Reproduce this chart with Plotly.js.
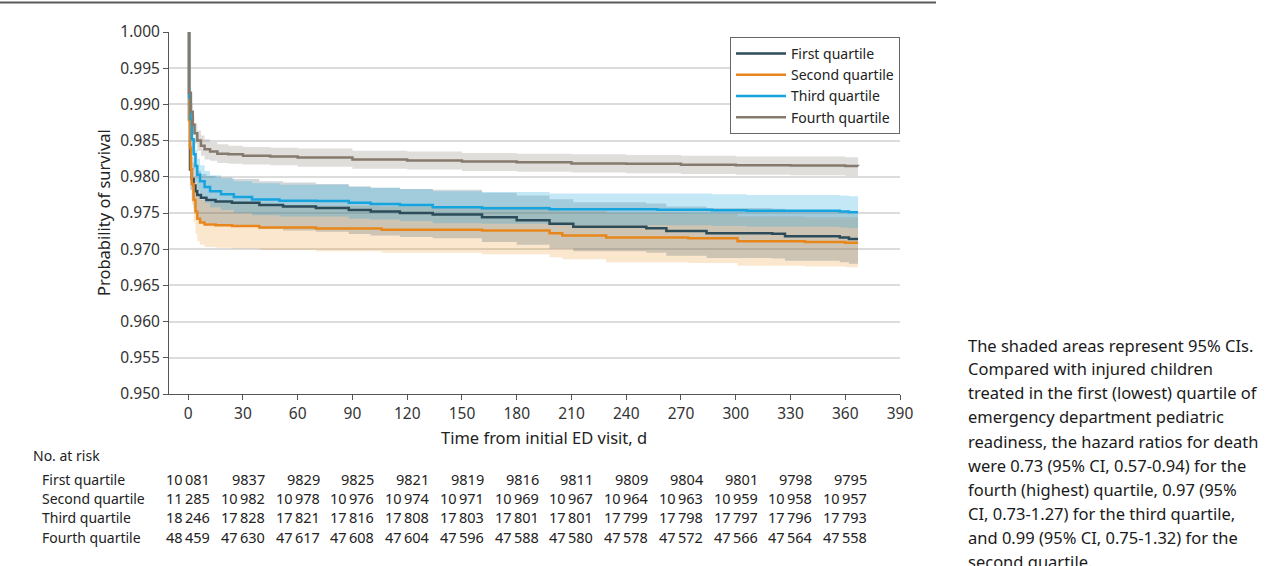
<!DOCTYPE html>
<html>
<head>
<meta charset="utf-8">
<script src="https://cdn.plot.ly/plotly-3.0.1.min.js"></script>
<style>
  html, body { margin: 0; padding: 0; background: #fff; }
  #chart { width: 1265px; height: 566px; }
</style>
</head>
<body>
<div id="chart"></div>
<script>
// ---------- Data ----------
const seriesNames = ["First quartile", "Second quartile", "Third quartile", "Fourth quartile"];

// First quartile
const t1  = [0, 0.5, 1, 2, 3, 4, 5, 7, 10, 15, 24, 39, 52, 70, 88, 100, 116, 134, 161, 180, 198, 211, 251, 262, 284, 320, 327, 357, 362, 367];
const s1  = [1.0, 0.9880, 0.9810, 0.9797, 0.9788, 0.9780, 0.9775, 0.9771, 0.9768, 0.9766, 0.9764, 0.9761, 0.9759, 0.9757, 0.9754, 0.9752, 0.9750, 0.9748, 0.9744, 0.9740, 0.9735, 0.9731, 0.9729, 0.9725, 0.9722, 0.97215, 0.9718, 0.9716, 0.9714, 0.9714];
const hi1 = [1.0, 0.9905, 0.9840, 0.9828, 0.9820, 0.9813, 0.9808, 0.9804, 0.9801, 0.9799, 0.9797, 0.9794, 0.9792, 0.9790, 0.9787, 0.9785, 0.9783, 0.9782, 0.9778, 0.9774, 0.9769, 0.9765, 0.9763, 0.9759, 0.9757, 0.9756, 0.9753, 0.9751, 0.9749, 0.9749];
const lo1 = [1.0, 0.9855, 0.9782, 0.9768, 0.9757, 0.9748, 0.9742, 0.9738, 0.9735, 0.9733, 0.9731, 0.9728, 0.9726, 0.9724, 0.9721, 0.9719, 0.9717, 0.9715, 0.9710, 0.9706, 0.9701, 0.9697, 0.9695, 0.9691, 0.9688, 0.9687, 0.9684, 0.9682, 0.9680, 0.9680];

// Second quartile
const t2  = [0, 0.5, 1, 1.5, 2, 3, 4, 5, 6.5, 9, 15, 24, 39, 70, 106, 161, 198, 205, 229, 274, 301, 338, 360, 367];
const s2  = [1.0, 0.9878, 0.9840, 0.9810, 0.9790, 0.9768, 0.9752, 0.9742, 0.9737, 0.9734, 0.9733, 0.9732, 0.9730, 0.97285, 0.9727, 0.9726, 0.9722, 0.9719, 0.9716, 0.9715, 0.9711, 0.9710, 0.9709, 0.9709];
const hi2 = [1.0, 0.9900, 0.9866, 0.9838, 0.9819, 0.9798, 0.9783, 0.9773, 0.9768, 0.9765, 0.9764, 0.9763, 0.9761, 0.9760, 0.9759, 0.9759, 0.9756, 0.9753, 0.9750, 0.9749, 0.9745, 0.9744, 0.9744, 0.9744];
const lo2 = [1.0, 0.9856, 0.9814, 0.9782, 0.9761, 0.9738, 0.9721, 0.9711, 0.9706, 0.9703, 0.9702, 0.9701, 0.9699, 0.9697, 0.9695, 0.9693, 0.9689, 0.9686, 0.9682, 0.9681, 0.9677, 0.9676, 0.9675, 0.9675];

// Third quartile
const t3  = [0, 0.5, 1.2, 2, 3, 4, 5, 6.5, 9, 12, 18, 25, 35, 50, 70, 88, 100, 116, 134, 161, 198, 257, 287, 306, 357, 362, 367];
const s3  = [1.0, 0.9910, 0.9880, 0.9852, 0.9831, 0.9815, 0.9803, 0.9794, 0.9786, 0.9780, 0.9776, 0.9772, 0.97685, 0.9767, 0.97665, 0.9764, 0.97625, 0.9761, 0.9758, 0.97566, 0.97552, 0.97545, 0.97538, 0.9753, 0.97522, 0.9751, 0.9751];
const hi3 = [1.0, 0.9925, 0.9898, 0.9872, 0.9852, 0.9837, 0.9825, 0.9816, 0.9808, 0.9802, 0.9798, 0.9794, 0.9791, 0.9789, 0.9789, 0.9786, 0.9785, 0.9783, 0.9780, 0.9779, 0.9777, 0.9777, 0.9776, 0.9775, 0.9774, 0.9773, 0.9773];
const lo3 = [1.0, 0.9895, 0.9862, 0.9833, 0.9810, 0.9793, 0.9781, 0.9772, 0.9764, 0.9758, 0.9754, 0.9750, 0.9747, 0.9745, 0.9745, 0.9742, 0.9741, 0.9739, 0.9736, 0.9735, 0.9733, 0.9733, 0.9732, 0.9731, 0.9730, 0.9729, 0.9729];

// Fourth quartile
const t4  = [0, 0.5, 1.5, 2.5, 3.5, 5, 7, 9, 12, 16, 22, 30, 45, 60, 90, 120, 150, 180, 210, 240, 270, 300, 330, 360, 367];
const s4  = [1.0, 0.9916, 0.9890, 0.9872, 0.9860, 0.9850, 0.9843, 0.9838, 0.9835, 0.9832, 0.9831, 0.9829, 0.9828, 0.98265, 0.9824, 0.98225, 0.9821, 0.9820, 0.98185, 0.9818, 0.98165, 0.9816, 0.98155, 0.98148, 0.98147];
const hi4 = [1.0, 0.9925, 0.9902, 0.9885, 0.9874, 0.9864, 0.9857, 0.9852, 0.9848, 0.9845, 0.9843, 0.9841, 0.9840, 0.9839, 0.9836, 0.9835, 0.9833, 0.9832, 0.9831, 0.9830, 0.9829, 0.9828, 0.9828, 0.9827, 0.9827];
const lo4 = [1.0, 0.9907, 0.9878, 0.9859, 0.9846, 0.9836, 0.9829, 0.9824, 0.9822, 0.9819, 0.9818, 0.9817, 0.9816, 0.9814, 0.9811, 0.9810, 0.9808, 0.9807, 0.9806, 0.9805, 0.9804, 0.9803, 0.9802, 0.9801, 0.9801];

// Number at risk
const riskTimes = [0, 30, 60, 90, 120, 150, 180, 210, 240, 270, 300, 330, 360];
const risk1 = [10081, 9837, 9829, 9825, 9821, 9819, 9816, 9811, 9809, 9804, 9801, 9798, 9795];
const risk2 = [11285, 10982, 10978, 10976, 10974, 10971, 10969, 10967, 10964, 10963, 10959, 10958, 10957];
const risk3 = [18246, 17828, 17821, 17816, 17808, 17803, 17801, 17801, 17799, 17798, 17797, 17796, 17793];
const risk4 = [48459, 47630, 47617, 47608, 47604, 47596, 47588, 47580, 47578, 47572, 47566, 47564, 47558];

const xTicks = [0, 30, 60, 90, 120, 150, 180, 210, 240, 270, 300, 330, 360, 390];

const noteLines = [
  "The shaded areas represent 95% CIs.",
  "Compared with injured children",
  "treated in the first (lowest) quartile of",
  "emergency department pediatric",
  "readiness, the hazard ratios for death",
  "were 0.73 (95% CI, 0.57-0.94) for the",
  "fourth (highest) quartile, 0.97 (95%",
  "CI, 0.73-1.27) for the third quartile,",
  "and 0.99 (95% CI, 0.75-1.32) for the",
  "second quartile."
];

// ---------- Styling ----------
const FONT = "'Noto Sans', 'Open Sans', sans-serif";
const lineColors = ["#2c4c5a", "#e8861c", "#16a4df", "#857a6e"];
const bandColors = ["rgba(44,76,90,0.22)", "rgba(238,140,30,0.22)", "rgba(22,164,223,0.25)", "rgba(133,122,110,0.25)"];

const T = [t1, t2, t3, t4], S = [s1, s2, s3, s4], HI = [hi1, hi2, hi3, hi4], LO = [lo1, lo2, lo3, lo4];

const traces = [];
// bands: second, first, third, fourth
[1, 0, 2, 3].forEach(i => {
  traces.push({x: T[i], y: HI[i], mode: "lines", line: {width: 0, shape: "hv"}, showlegend: false, hoverinfo: "skip"});
  traces.push({x: T[i], y: LO[i], mode: "lines", line: {width: 0, shape: "hv"}, fill: "tonexty", fillcolor: bandColors[i], showlegend: false, hoverinfo: "skip"});
});
// lines
[0, 1, 2, 3].forEach(i => {
  traces.push({x: T[i], y: S[i], mode: "lines", name: seriesNames[i], line: {color: lineColors[i], width: 2.5, shape: "hv"}});
});

// pixel helpers for paper coords
const L = 169, R = 900, TOP = 32, BOT = 394;
const px = v => (v - L) / (R - L);
const py = v => 1 - (v - TOP) / (BOT - TOP);

function fmt(n) {
  const s = String(n);
  return s.length >= 5 ? s.slice(0, s.length - 3) + "\u2009" + s.slice(s.length - 3) : s;
}

const annotations = [];
// axis titles
annotations.push({xref: "paper", yref: "paper", x: px(544), y: py(437), text: "Time from initial ED visit, d", showarrow: false, xanchor: "center", yanchor: "middle", font: {size: 16.5, color: "#222", family: FONT}});
annotations.push({xref: "paper", yref: "paper", x: px(103), y: py(213), text: "Probability of survival", textangle: -90, showarrow: false, xanchor: "center", yanchor: "middle", font: {size: 16.5, color: "#222", family: FONT}});

// risk table
annotations.push({xref: "paper", yref: "paper", x: px(31), y: py(456), text: "No. at risk", showarrow: false, xanchor: "left", yanchor: "middle", font: {size: 14, color: "#222", family: FONT}});
const risks = [risk1, risk2, risk3, risk4];
const rowY = [479, 498, 517, 537];
risks.forEach((r, k) => {
  annotations.push({xref: "paper", yref: "paper", x: px(40), y: py(rowY[k]), text: seriesNames[k], showarrow: false, xanchor: "left", yanchor: "middle", font: {size: 14, color: "#222", family: FONT}});
  r.forEach((v, j) => {
    annotations.push({xref: "x", yref: "paper", x: riskTimes[j], xshift: 24, y: py(rowY[k]), text: fmt(v), showarrow: false, xanchor: "right", yanchor: "middle", font: {size: 14.5, color: "#222", family: FONT}});
  });
});

// note text
const noteY = [345, 368.5, 392.5, 416.5, 441, 465, 489, 513.5, 537.5, 561.5];
noteLines.forEach((s, k) => {
  annotations.push({xref: "paper", yref: "paper", x: px(966), y: py(noteY[k]), text: s, showarrow: false, xanchor: "left", yanchor: "middle", font: {size: 16.5, color: "#1a1a1a", family: FONT}});
});

const layout = {
  width: 1265, height: 566,
  margin: {l: L, r: 1265 - R, t: TOP, b: 566 - BOT, pad: 0},
  paper_bgcolor: "#fff", plot_bgcolor: "#fff",
  font: {family: FONT, color: "#222", size: 14},
  showlegend: true,
  legend: {x: 1, xanchor: "right", y: py(37), yanchor: "top", bgcolor: "#fff", bordercolor: "#666", borderwidth: 1,
           font: {size: 14, color: "#222", family: FONT}, traceorder: "normal", itemwidth: 50, tracegroupgap: 0},
  xaxis: {range: [-10.5, 390], tickvals: xTicks, ticktext: xTicks.map(String), ticks: "outside", ticklen: 5, tickwidth: 1, tickcolor: "#555",
          showline: true, linecolor: "#555", linewidth: 1, showgrid: false, zeroline: false,
          tickfont: {size: 15.5, color: "#333", family: FONT}},
  yaxis: {range: [0.95, 1.0], dtick: 0.005, tick0: 0.95, tickformat: ".3f", ticks: "outside", ticklen: 5, tickwidth: 1, tickcolor: "#555",
          showline: true, linecolor: "#555", linewidth: 1, showgrid: true, gridcolor: "#dcdcdc", gridwidth: 2, zeroline: false,
          tickfont: {size: 15.5, color: "#333", family: FONT}},
  shapes: [
    {type: "line", xref: "paper", yref: "paper", x0: px(0), x1: px(936), y0: py(2.5), y1: py(2.5), line: {color: "#5a5a5a", width: 2}}
  ],
  annotations: annotations
};

Plotly.newPlot("chart", traces, layout, {staticPlot: true, displayModeBar: false});
</script>
</body>
</html>
